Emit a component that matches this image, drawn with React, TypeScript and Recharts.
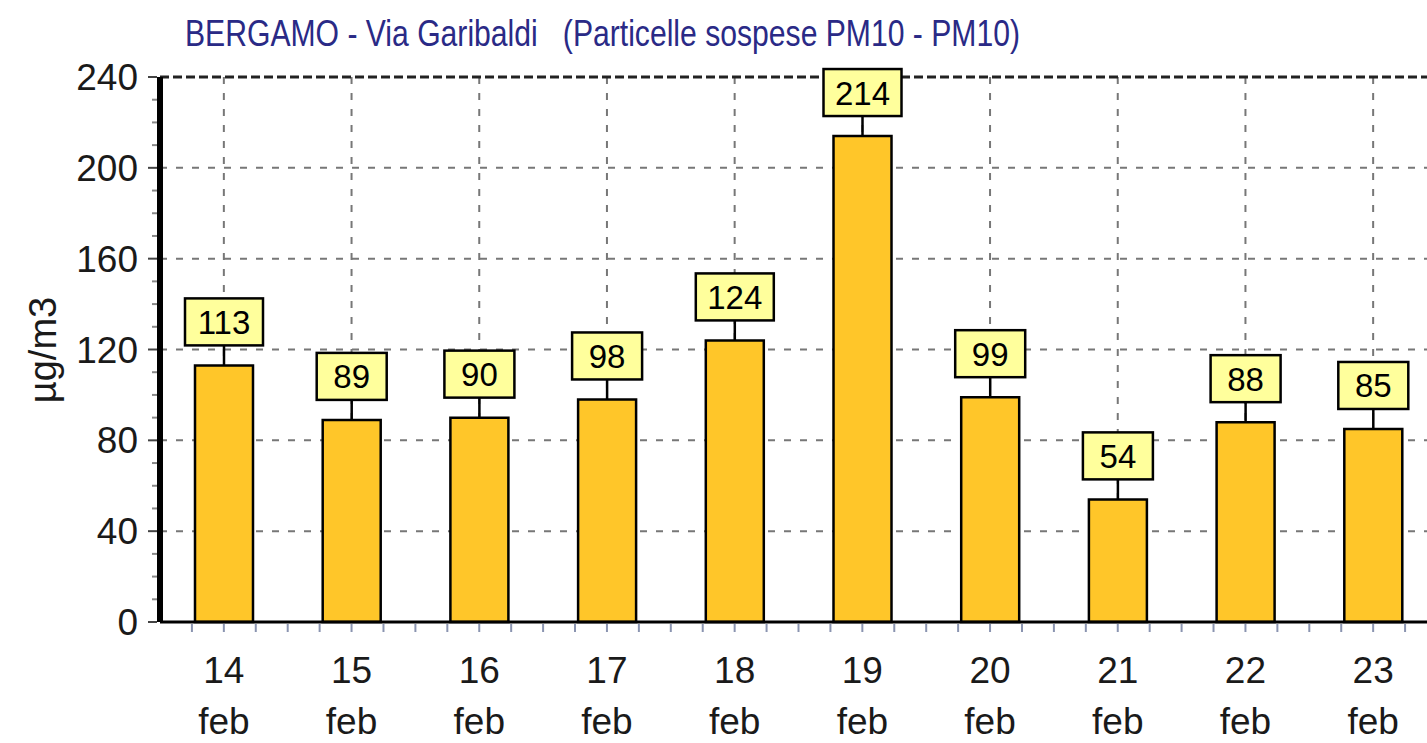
import { BarChart, Bar, XAxis, YAxis, CartesianGrid, LabelList, ReferenceLine } from 'recharts';

// values
const days = ['14', '15', '16', '17', '18', '19', '20', '21', '22', '23'];
const monthLabel = 'feb';
const pm10 = [113, 89, 90, 98, 124, 214, 99, 54, 88, 85];
const yTicks = [0, 10, 20, 30, 40, 50, 60, 70, 80, 90, 100, 110, 120, 130, 140, 150, 160, 170, 180, 190, 200, 210, 220, 230, 240];
const yMajor = [0, 40, 80, 120, 160, 200, 240];
const gridValues = [40, 80, 120, 160, 200];

const title = 'BERGAMO - Via Garibaldi   (Particelle sospese PM10 - PM10)';
const yTitle = 'µg/m3';

const chartData = days.map((d, i) => ({ day: d, value: pm10[i] }));

const FONT = '"Liberation Sans", Arial, sans-serif';
const CHART_W = 1440;
const CHART_H = 743;
const PLOT_LEFT = 160;
const PLOT_RIGHT_MARGIN = 3;
const band = (CHART_W - PLOT_LEFT - PLOT_RIGHT_MARGIN) / days.length;

const YTick = (props: any) => {
  const { x, y, payload } = props;
  const major = yMajor.includes(payload.value);
  return (
    <g>
      <line x1={x - 3} x2={x - (major ? 12 : 8)} y1={y} y2={y} stroke={major ? '#444' : '#888'} strokeWidth={2} />
      {major && (
        <text x={x - 22} y={y} dy={13} textAnchor="end" fontSize={37} fontFamily={FONT} fill="#1a1a1a">
          {payload.value}
        </text>
      )}
    </g>
  );
};

const XTick = (props: any) => {
  const { x, y, payload } = props;
  const q = band / 4;
  const offsets = [-q, 0, q, 2 * q];
  return (
    <g>
      {offsets.map((o) => (
        <line key={o} x1={x + o} x2={x + o} y1={y + 2} y2={y + 10} stroke="#8a94b0" strokeWidth={2} />
      ))}
      <text x={x} y={y + 61} textAnchor="middle" fontSize={37} fontFamily={FONT} fill="#1a1a1a">
        {payload.value}
      </text>
      <text x={x} y={y + 112} textAnchor="middle" fontSize={37} fontFamily={FONT} fill="#1a1a1a">
        {monthLabel}
      </text>
    </g>
  );
};

const ValueBox = (props: any) => {
  const { x, y, width, value } = props;
  const cx = x + width / 2;
  const boxW = String(value).length > 2 ? 78 : 70;
  const boxH = 47;
  const stem = 20;
  return (
    <g>
      <line x1={cx} x2={cx} y1={y} y2={y - stem} stroke="#000" strokeWidth={2.5} />
      <rect x={cx - boxW / 2} y={y - stem - boxH} width={boxW} height={boxH} fill="#ffff9c" stroke="#000" strokeWidth={2.5} />
      <text x={cx} y={y - stem - boxH / 2} dy={12} textAnchor="middle" fontSize={33} fontFamily={FONT} fill="#000">
        {value}
      </text>
    </g>
  );
};

export default function App() {
  return (
    <div style={{ position: 'absolute', left: 0, top: 0, width: 1427, height: 743, overflow: 'hidden', background: '#fff' }}>
      <BarChart
        width={CHART_W}
        height={CHART_H}
        data={chartData}
        margin={{ top: 77, right: PLOT_RIGHT_MARGIN, bottom: 0, left: 0 }}
        barCategoryGap={0}
      >
        <CartesianGrid stroke="#777" strokeWidth={2} strokeDasharray="7 9" horizontalValues={gridValues} />
        <ReferenceLine y={240} stroke="#222" strokeWidth={3} strokeDasharray="9 4" />
        <XAxis
          dataKey="day"
          height={121}
          tickSize={0}
          tickMargin={0}
          tickLine={false}
          axisLine={{ stroke: '#000', strokeWidth: 3 }}
          tick={<XTick />}
          interval={0}
        />
        <YAxis
          width={PLOT_LEFT}
          domain={[0, 240]}
          ticks={yTicks}
          interval={0}
          tickSize={0}
          tickMargin={0}
          tickLine={false}
          axisLine={{ stroke: '#000', strokeWidth: 6 }}
          tick={<YTick />}
        />
        <Bar dataKey="value" fill="#ffc629" stroke="#000" strokeWidth={2.5} barSize={58} isAnimationActive={false}>
          <LabelList dataKey="value" content={<ValueBox />} />
        </Bar>
      </BarChart>
      <svg width={1427} height={743} style={{ position: 'absolute', left: 0, top: 0, pointerEvents: 'none' }}>
        <text
          x={185}
          y={46}
          fontSize={37}
          fontFamily={FONT}
          fill="#2a2a86"
          textLength={835}
          lengthAdjust="spacingAndGlyphs"
          style={{ whiteSpace: 'pre' }}
        >
          {title}
        </text>
        <text
          x={56}
          y={350}
          transform="rotate(-90 56 350)"
          textAnchor="middle"
          fontSize={38}
          fontFamily={FONT}
          fill="#1a1a1a"
        >
          {yTitle}
        </text>
      </svg>
    </div>
  );
}
